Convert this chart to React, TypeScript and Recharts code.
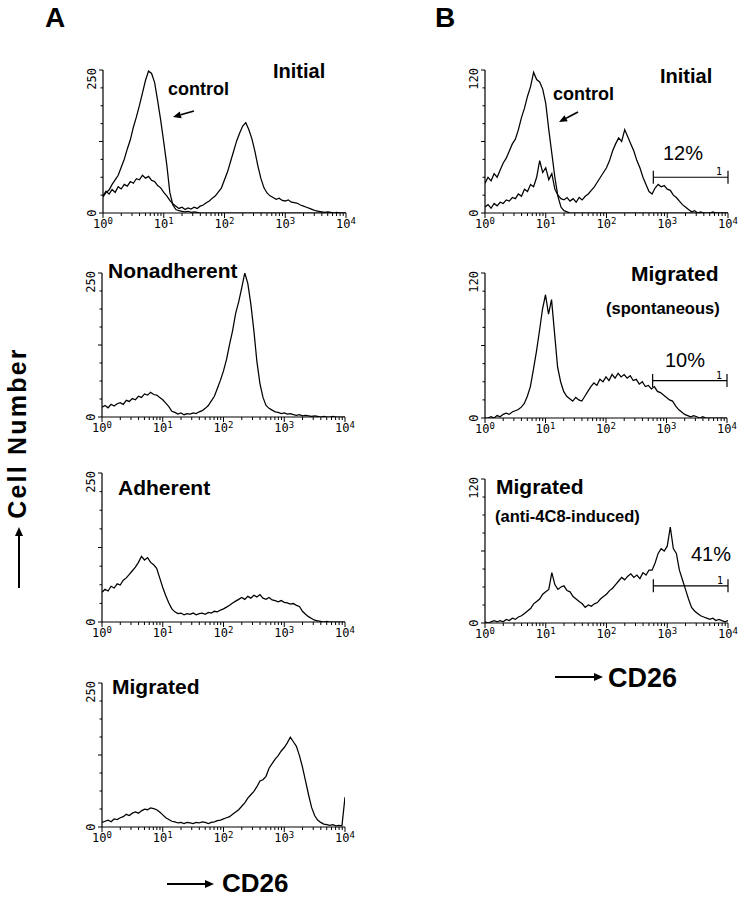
import React from 'react';
import { LineChart, Line, XAxis, YAxis, ReferenceLine } from 'recharts';

// ---------- channels (log fluorescence, 20 channels per decade) ----------
const CHANNELS_PER_DECADE = 20;
const CHANNEL_COUNT = 81;
const CHANNELS: number[] = Array.from({ length: CHANNEL_COUNT }, (_, i) => Math.pow(10, i / CHANNELS_PER_DECADE));

const DECADES = [1, 10, 100, 1000, 10000];
const X_TICK_BASE = '10';
const X_TICK_EXPONENTS = ['0', '1', '2', '3', '4'];
const X_TICKS: number[] = DECADES.slice(0, 4)
  .flatMap((d) => [1, 2, 3, 4, 5, 6, 7, 8, 9].map((k) => k * d))
  .concat([10000]);

const Y_MAX_A = 250;
const Y_MAX_B = 120;

// ---------- series (cell counts per channel) ----------
const A1_CONTROL = [28, 36, 40, 50, 58, 66, 80, 94, 112, 128, 150, 168, 188, 210, 232, 248, 244, 228, 196, 162,
  124, 84, 36, 14, 6, 4, 3, 2, 3, 1, 2, 1, 0, 0, 0, 0, 0, 0, 0, 0,
  0, 0, 0, 0, 0, 0, 0, 0, 0, 0, 0, 0, 0, 0, 0, 0, 0, 0, 0, 0,
  0, 0, 0, 0, 0, 0, 0, 0, 0, 0, 0, 0, 0, 0, 0, 0, 0, 0, 0, 0, 0];
const A1_CD26 = [30, 38, 33, 41, 36, 46, 42, 50, 47, 55, 52, 60, 58, 66, 61, 64, 57, 55, 48, 44,
  36, 30, 22, 16, 12, 8, 10, 6, 9, 7, 10, 8, 12, 14, 18, 21, 26, 30, 37, 44,
  58, 72, 90, 108, 126, 140, 152, 158, 146, 130, 108, 82, 60, 44, 35, 30, 27, 24, 26, 22,
  21, 23, 19, 18, 17, 14, 12, 10, 8, 6, 4, 3, 2, 1, 2, 1, 0, 1, 0, 0, 0];
const A2_NONADHERENT = [17, 20, 16, 22, 19, 23, 25, 22, 29, 27, 32, 30, 36, 34, 40, 38, 43, 39, 38, 34,
  30, 24, 18, 10, 8, 5, 7, 4, 6, 5, 7, 6, 9, 11, 15, 20, 28, 36, 50, 64,
  80, 100, 126, 150, 180, 200, 224, 250, 232, 196, 150, 96, 58, 34, 20, 15, 12, 9, 8, 6,
  7, 5, 6, 4, 3, 4, 2, 3, 2, 1, 2, 1, 0, 1, 0, 0, 1, 0, 0, 0, 0];
const A3_ADHERENT = [50, 55, 52, 60, 57, 64, 62, 70, 74, 80, 86, 92, 100, 110, 104, 108, 100, 96, 90, 74,
  58, 44, 32, 22, 17, 14, 15, 12, 14, 13, 15, 12, 14, 15, 13, 16, 15, 18, 17, 20,
  22, 25, 28, 32, 35, 38, 41, 38, 43, 40, 45, 42, 46, 40, 38, 41, 37, 36, 34, 36,
  33, 32, 30, 31, 28, 26, 18, 13, 9, 6, 3, 2, 1, 0, 1, 0, 0, 0, 0, 0, 0];
const A4_MIGRATED = [8, 10, 12, 9, 14, 13, 16, 18, 22, 20, 24, 26, 24, 28, 31, 30, 33, 32, 30, 26,
  21, 16, 13, 10, 9, 7, 8, 6, 8, 7, 6, 8, 7, 9, 8, 6, 8, 9, 11, 12,
  14, 16, 18, 22, 26, 30, 36, 42, 50, 56, 62, 70, 80, 82, 88, 102, 110, 118, 124, 132,
  138, 146, 156, 148, 140, 124, 104, 80, 56, 34, 20, 12, 8, 5, 4, 3, 4, 2, 3, 2, 52];
const B1_CONTROL = [25, 30, 27, 33, 30, 36, 42, 46, 52, 58, 62, 70, 80, 88, 98, 106, 118, 112, 110, 104,
  92, 70, 50, 30, 14, 5, 2, 1, 0, 0, 0, 0, 0, 0, 0, 0, 0, 0, 0, 0,
  0, 0, 0, 0, 0, 0, 0, 0, 0, 0, 0, 0, 0, 0, 0, 0, 0, 0, 0, 0,
  0, 0, 0, 0, 0, 0, 0, 0, 0, 0, 0, 0, 0, 0, 0, 0, 0, 0, 0, 0, 0];
const B1_CD26 = [5, 7, 4, 8, 6, 9, 8, 11, 10, 13, 12, 16, 14, 20, 18, 24, 22, 30, 44, 34,
  38, 28, 33, 20, 15, 12, 11, 13, 10, 12, 9, 13, 11, 14, 16, 19, 22, 26, 30, 34,
  38, 44, 52, 58, 63, 60, 70, 64, 58, 52, 44, 38, 30, 24, 18, 16, 21, 24, 22, 23,
  20, 19, 15, 13, 10, 7, 5, 3, 1, 2, 0, 1, 0, 0, 0, 1, 0, 0, 0, 0, 0];
const B2_SPONTANEOUS = [0, 0, 1, 0, 2, 1, 3, 4, 3, 5, 6, 7, 9, 12, 18, 26, 40, 55, 72, 90,
  102, 86, 98, 70, 42, 30, 22, 18, 16, 14, 17, 15, 14, 18, 22, 26, 29, 27, 32, 30,
  34, 31, 36, 33, 37, 34, 36, 33, 35, 31, 32, 28, 30, 26, 27, 24, 26, 22, 21, 19,
  17, 15, 14, 10, 7, 5, 3, 2, 1, 2, 1, 0, 1, 0, 0, 0, 0, 0, 0, 0, 0];
const B3_INDUCED = [1, 0, 1, 2, 1, 2, 1, 3, 2, 4, 3, 5, 6, 8, 10, 12, 16, 18, 20, 24,
  26, 28, 42, 32, 28, 30, 31, 27, 26, 22, 20, 18, 16, 13, 15, 14, 16, 17, 20, 22,
  24, 27, 29, 32, 35, 38, 36, 39, 41, 38, 40, 37, 42, 40, 44, 44, 50, 58, 62, 60,
  64, 80, 62, 58, 44, 36, 28, 20, 13, 10, 8, 6, 5, 4, 3, 4, 2, 3, 2, 1, 2];

// gate "1": fluorescence range and level (counts)
const GATE_FROM = 590;
const GATE_TO = 10000;
const GATE_LEVELS = { b1: 30, b2: 31, b3: 31 };
const GATE_PERCENTS = { b1: '12%', b2: '10%', b3: '41%' };

const rowsOf = (series: Record<string, number[]>) =>
  CHANNELS.map((fl, i) => {
    const r: Record<string, number> = { fl };
    Object.keys(series).forEach((k) => (r[k] = series[k][i]));
    return r;
  });

// ---------- styles ----------
const SANS = "'Liberation Sans', Arial, Helvetica, sans-serif";
const MONO = "'DejaVu Sans Mono', 'Liberation Mono', monospace";

const XTick = (props: any) => {
  const { x, y, payload } = props;
  const idx = DECADES.indexOf(payload.value);
  const major = idx >= 0;
  return (
    <g>
      <line x1={x} x2={x} y1={y} y2={y + (major ? 5 : 3)} stroke="#000" strokeWidth={1} />
      {major && (
        <text x={x} y={y + 15} textAnchor="middle" fontFamily={MONO} fontSize={12} fill="#000">
          {X_TICK_BASE}
          <tspan fontSize={9} dy={-4}>{X_TICK_EXPONENTS[idx]}</tspan>
        </text>
      )}
    </g>
  );
};

const YTick = (props: any) => {
  const { x, y, payload, max } = props;
  const v = payload.value;
  const major = v === 0 || v === max || v === max / 2;
  const tx = x - 7;
  return (
    <g>
      <line x1={x} x2={x - (major ? 4 : 2.5)} y1={y} y2={y} stroke="#000" strokeWidth={1} />
      {v === 0 && (
        <text x={tx} y={y} transform={`rotate(-90, ${tx}, ${y})`} textAnchor="middle" fontFamily={MONO} fontSize={12} fill="#000">
          {String(v)}
        </text>
      )}
      {v === max && (
        <text x={tx} y={y - 2} transform={`rotate(-90, ${tx}, ${y - 2})`} textAnchor="end" fontFamily={MONO} fontSize={12} fill="#000">
          {String(v)}
        </text>
      )}
    </g>
  );
};

type PanelProps = {
  left: number; top: number; plotW: number; plotH: number; max: number;
  series: Record<string, number[]>; gate?: number;
};

const ML = 24, MT = 8, MR = 16, XH = 22;

const Panel = ({ left, top, plotW, plotH, max, series, gate }: PanelProps) => {
  const rows = rowsOf(series);
  const yTicks = [0, 1, 2, 3, 4, 5, 6, 7, 8].map((k) => (k * max) / 8);
  const cap = max * 0.045;
  return (
    <div style={{ position: 'absolute', left: left - ML, top: top - MT }}>
      <LineChart width={ML + plotW + MR} height={MT + plotH + XH} data={rows} margin={{ top: MT, right: MR, bottom: 0, left: 0 }}>
        <XAxis dataKey="fl" type="number" scale="log" domain={[1, 10000]} ticks={X_TICKS} interval={0}
          tickSize={0} tickMargin={0} tickLine={false} tick={<XTick />} height={XH}
          axisLine={{ stroke: '#000', strokeWidth: 1.2 }} allowDataOverflow />
        <YAxis type="number" domain={[0, max]} ticks={yTicks} interval={0} tickSize={0} tickMargin={0}
          tickLine={false} tick={<YTick max={max} />} width={ML}
          axisLine={{ stroke: '#000', strokeWidth: 1.2 }} allowDataOverflow />
        {Object.keys(series).map((k) => (
          <Line key={k} dataKey={k} type="linear" stroke="#000" strokeWidth={1.25} dot={false} isAnimationActive={false} />
        ))}
        {gate !== undefined && (
          <ReferenceLine segment={[{ x: GATE_FROM, y: gate }, { x: GATE_TO, y: gate }]} stroke="#000" strokeWidth={1.2} />
        )}
        {gate !== undefined && (
          <ReferenceLine segment={[{ x: GATE_FROM, y: gate - cap }, { x: GATE_FROM, y: gate + cap }]} stroke="#000" strokeWidth={1.2} />
        )}
        {gate !== undefined && (
          <ReferenceLine segment={[{ x: GATE_TO, y: gate - cap }, { x: GATE_TO, y: gate + cap }]} stroke="#000" strokeWidth={1.2} />
        )}
      </LineChart>
    </div>
  );
};

const Arrow = ({ x1, y1, x2, y2, len = 8, half = 3.5, w = 1.6 }: any) => {
  const dx = x2 - x1, dy = y2 - y1;
  const d = Math.hypot(dx, dy);
  const ux = dx / d, uy = dy / d;
  const bx = x2 - ux * len, by = y2 - uy * len;
  const nx = -uy * half, ny = ux * half;
  return (
    <g>
      <line x1={x1} y1={y1} x2={bx} y2={by} stroke="#000" strokeWidth={w} />
      <polygon points={`${x2},${y2} ${bx + nx},${by + ny} ${bx - nx},${by - ny}`} fill="#000" />
    </g>
  );
};

const Txt = ({ x, y, size, weight = 'bold', anchor = 'start', family = SANS, children, ...rest }: any) => (
  <text x={x} y={y} fontSize={size} fontWeight={weight} textAnchor={anchor} fontFamily={family} fill="#000" {...rest}>
    {children}
  </text>
);

export default function App() {
  return (
    <div style={{ position: 'absolute', left: 0, top: 0, width: 746, height: 899, background: '#fff', overflow: 'hidden' }}>
      <Panel left={103} top={70} plotW={243} plotH={143} max={Y_MAX_A} series={{ control: A1_CONTROL, cd26: A1_CD26 }} />
      <Panel left={102} top={273} plotW={243} plotH={144} max={Y_MAX_A} series={{ cd26: A2_NONADHERENT }} />
      <Panel left={102} top={473} plotW={243} plotH={149} max={Y_MAX_A} series={{ cd26: A3_ADHERENT }} />
      <Panel left={102} top={683} plotW={243} plotH={144} max={Y_MAX_A} series={{ cd26: A4_MIGRATED }} />
      <Panel left={485} top={70} plotW={243} plotH={143} max={Y_MAX_B} series={{ control: B1_CONTROL, cd26: B1_CD26 }} gate={GATE_LEVELS.b1} />
      <Panel left={485} top={273} plotW={242} plotH={145} max={Y_MAX_B} series={{ cd26: B2_SPONTANEOUS }} gate={GATE_LEVELS.b2} />
      <Panel left={485} top={479} plotW={243} plotH={144} max={Y_MAX_B} series={{ cd26: B3_INDUCED }} gate={GATE_LEVELS.b3} />

      <svg width={746} height={899} style={{ position: 'absolute', left: 0, top: 0, pointerEvents: 'none' }}>
        <Txt x={45} y={27} size={28}>A</Txt>
        <Txt x={435} y={27} size={28}>B</Txt>

        <Txt x={273} y={78} size={20}>Initial</Txt>
        <Txt x={168} y={95} size={18}>control</Txt>
        <Arrow x1={194} y1={111} x2={173} y2={117} />

        <Txt x={660} y={83} size={20}>Initial</Txt>
        <Txt x={553} y={100} size={18}>control</Txt>
        <Arrow x1={578} y1={112} x2={559} y2={122} />
        <Txt x={663} y={160} size={20} weight="normal">{GATE_PERCENTS.b1}</Txt>
        <Txt x={716} y={175} size={10} weight="normal" family={MONO}>1</Txt>

        <Txt x={108} y={278} size={21}>Nonadherent</Txt>
        <Txt x={631} y={281} size={21}>Migrated</Txt>
        <Txt x={606} y={314} size={16.5}>(spontaneous)</Txt>
        <Txt x={665} y={367} size={20} weight="normal">{GATE_PERCENTS.b2}</Txt>
        <Txt x={716} y={379} size={10} weight="normal" family={MONO}>1</Txt>

        <Txt x={118} y={495} size={21}>Adherent</Txt>
        <Txt x={496} y={494} size={21}>Migrated</Txt>
        <Txt x={495} y={522} size={16.5}>(anti-4C8-induced)</Txt>
        <Txt x={691} y={561} size={20} weight="normal">{GATE_PERCENTS.b3}</Txt>
        <Txt x={717} y={584} size={10} weight="normal" family={MONO}>1</Txt>

        <Txt x={112} y={694} size={21}>Migrated</Txt>

        <Arrow x1={167} y1={884} x2={214} y2={884} len={9} half={4} w={2} />
        <Txt x={222} y={892} size={26}>CD26</Txt>
        <Arrow x1={555} y1={677} x2={603} y2={677} len={9} half={4} w={2} />
        <Txt x={608} y={687} size={27}>CD26</Txt>

        <Txt x={26} y={433} size={25} anchor="middle" letterSpacing={2.2} transform="rotate(-90, 26, 433)">Cell Number</Txt>
        <Arrow x1={19} y1={588} x2={19} y2={527} len={9} half={4} w={2} />
      </svg>
    </div>
  );
}
